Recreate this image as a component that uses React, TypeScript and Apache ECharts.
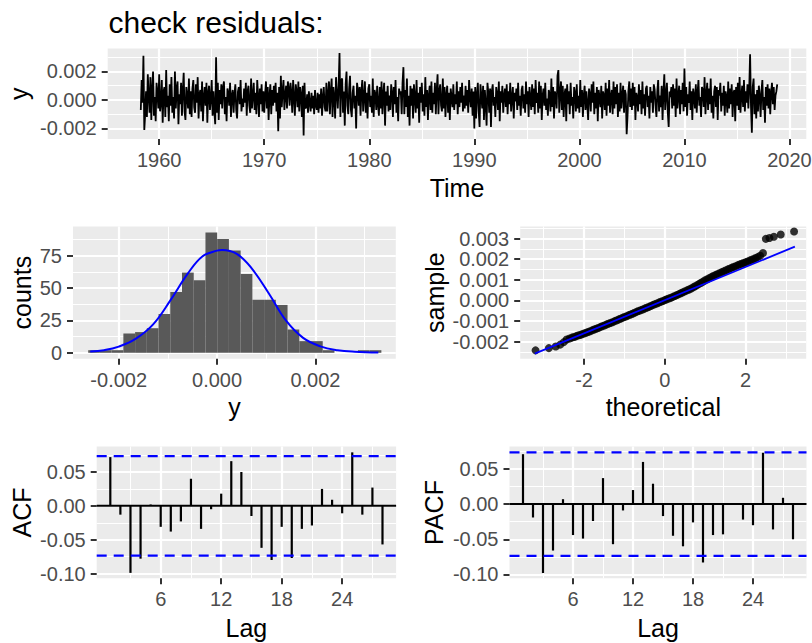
import React, { useEffect, useRef } from "react";
import * as echarts from "echarts";

const FONT = "'Liberation Sans', Arial, Helvetica, sans-serif";

// ---------- Panel 1: residual time series (values in units of 1e-4) ----------
const seriesStart = 1958.25; // Apr 1958, monthly
const residE4 = [
  // 1958 Apr-Dec
  -7, 14, -2, 31, -21, -10, 6, -12, 18,
  3, -9, 16, -14, 7, 20, -11, 2, -15, 12, 5, -6, // 1959
  18, -8, -2, 14, -16, 6, 9, -12, 21, -5, 3, -15, // 1960
  11, -4, 16, -9, 2, -13, 20, -6, 8, 13, -17, 4, // 1961
  -3, 12, -11, 7, 19, -8, -14, 9, 3, -6, 15, -10, // 1962
  6, -12, 8, 14, -5, -9, 11, -2, 16, -13, 4, 7, // 1963
  -8, 13, -15, 2, 9, -4, 12, -16, 5, 10, -7, 1, // 1964
  14, -11, 6, -8, -17, 30, -9, 12, -14, 7, -3, 11, // 1965
  -6, 9, 13, -10, 2, -15, 8, 5, -4, 12, -12, 3, // 1966
  7, -9, 4, 11, -7, -13, 6, 9, -3, 14, -8, 1, // 1967
  -5, 8, -2, 12, -11, 6, 10, -4, -9, 15, -6, 3, // 1968
  12, -7, 5, -10, 14, 2, -12, 8, -3, 11, -8, 6, // 1969
  -9, 4, 13, -6, 9, -14, 3, 11, -10, 7, -4, 10, // 1970
  -2, 12, -8, 5, -22, 9, -13, 17, -5, 6, 14, -7, // 1971
  3, 10, -6, 13, 8, -4, 12, 5, -9, 14, 2, -11, // 1972
  11, 6, -5, 13, -8, 9, 4, -12, 10, -25, 12, -6, // 1973
  -5, 4, -9, 6, -2, -8, 5, -6, 3, -10, 7, -4, // 1974
  -7, 5, -9, 4, -6, 8, -11, 2, 9, -5, -8, 12, // 1975
  -8, 4, 13, -10, 6, 15, -12, 9, 2, -13, 16, 5, // 1976
  -6, 10, 33, -12, 14, 15, -9, 6, -18, 11, 20, -4, // 1977
  -10, 8, 17, -7, -12, 5, 10, -6, 3, -20, 12, 7, // 1978
  -4, 9, -11, 6, 14, -8, 2, 13, -9, 5, -13, 8, // 1979
  11, -5, 3, -9, 15, -12, 7, 4, -7, 10, -3, -11, // 1980
  9, -6, 13, -10, 4, 12, -18, 6, -4, 10, -8, 3, // 1981
  -7, 11, 5, -12, 9, -3, 14, -9, 2, -15, 8, 4, // 1982
  6, -10, 12, 23, -10, 7, -5, 15, -12, 3, -18, 10, // 1983
  -4, 8, -13, 11, 2, -9, 14, -6, 5, -16, 9, -2, // 1984
  12, -8, 4, -11, 16, -5, 7, -14, 3, 10, -7, 13, // 1985
  -9, 5, -3, 12, -10, 7, 18, -10, 6, 11, -4, -8, // 1986
  15, -6, 9, -12, 3, 10, -9, 5, -14, 8, 2, -5, // 1987
  11, -7, 4, -3, 13, -10, 6, -5, 9, -2, 12, -8, // 1988
  3, -6, 10, -4, 7, -9, 14, 2, -5, 8, -11, 6, // 1989
  -20, 9, -13, 4, 12, -8, -19, 11, 3, -6, 10, -14, // 1990
  7, -3, -18, 12, 5, -9, 8, -19, 6, 11, -4, 2, // 1991
  -12, 9, 4, -7, 13, -15, 6, -2, 10, -9, 3, 8, // 1992
  -5, 11, -10, 6, -3, 12, -8, 2, 9, -13, 5, -1, // 1993
  8, -7, 12, -4, 3, -11, 7, 10, -6, 4, -9, 13, // 1994
  -3, 6, -12, 9, 2, -7, 11, -5, 8, -10, 14, -2, // 1995
  5, -9, 13, -6, 10, -14, 3, 8, -4, 12, -7, 1, // 1996
  -11, 7, 4, -8, 15, -5, 9, -13, 6, 3, -6, 17, // 1997
  21, -9, 5, 13, -7, 10, -12, 4, 8, -15, 11, -3, // 1998
  6, -10, 12, -4, 2, -13, 9, 5, -8, 11, -6, 3, // 1999
  -9, 14, -5, 7, -12, 3, 10, -7, 6, -3, -14, 8, // 2000
  4, -8, 11, -2, 13, -10, 5, -6, 9, -15, 7, 2, // 2001
  -5, 10, -13, 6, 3, -7, 12, -11, 8, -4, 14, -9, // 2002
  2, 7, -10, 13, -6, 9, -3, 11, -12, 5, -8, 12, // 2003
  -6, 3, 10, -9, 7, 4, -24, -11, 6, 13, -5, 8, // 2004
  -7, 12, -4, 9, -14, 5, 2, -8, 11, -3, 7, -10, // 2005
  13, -6, 4, -11, 8, 10, -5, 3, -13, 9, -2, 6, // 2006
  -9, 11, 7, -4, -12, 6, 14, -8, 3, -5, 10, -14, // 2007
  5, 18, -7, 4, 12, -9, -19, 6, 2, 9, -6, 11, // 2008
  -4, 8, -12, 15, -6, 3, 10, -10, 7, -3, 12, -8, // 2009
  22, -5, 9, -11, 4, -2, 13, -7, 6, -14, 8, 3, // 2010
  -6, 11, -9, 5, 14, -4, 2, -12, 9, 7, -5, 16, // 2011
  -10, 4, 12, -7, 8, -3, 15, -9, 3, -13, 6, 10, // 2012
  -5, 9, -14, 7, 3, 12, -8, 5, -4, 10, -11, 6, // 2013
  2, -9, 13, -6, 8, -3, 11, -12, 5, 7, -15, 9, // 2014
  -4, 12, -7, 16, -9, 3, 10, -5, 14, -8, 6, -2, // 2015
  11, -6, 8, 32, -4, -23, 9, 15, -10, 4, -13, 7, // 2016
  -8, 10, 3, -12, 6, 14, -7, 2, -16, 9, -4, 11, // 2017
  -6, 8, -10, 5, 12, -3, 9, -7, 3, 6, 11, // 2018 Jan-Nov
];
const timeMajor = [1960, 1970, 1980, 1990, 2000, 2010, 2020];
const timeMinor = [1965, 1975, 1985, 1995, 2005, 2015];
const residMajor = [-0.002, 0, 0.002];
const residMinor = [-0.001, 0.001, 0.003];

// ---------- Panel 2: histogram (x in units of 1e-4) ----------
const histBinStartE4 = -26.21;
const histBinWidthE4 = 2.385;
const histCounts = [2, 2, 2, 15, 16, 19, 30, 47, 62, 56, 93, 88, 79, 61, 41, 41, 37, 18, 9, 9, 2, 0, 0, 2, 2];
const curveXE4 = [-25.8, -23.0, -20.0, -16.5, -13.0, -9.5, -6.0, -3.0, 0.0, 1.0, 4.0, 7.0, 10.5, 14.0, 17.5, 21.0, 24.5, 28.0, 32.8];
const curveCounts = [0.9, 2.0, 4.8, 11.0, 22.0, 40.5, 61.0, 74.5, 79.0, 79.5, 76.5, 65.5, 46.0, 25.0, 11.5, 5.0, 2.0, 0.8, 0.2];
const histXMajor = [-0.002, 0, 0.002];
const histXMinor = [-0.001, 0.001, 0.003];
const histYMajor = [0, 25, 50, 75];
const histYMinor = [12.5, 37.5, 62.5, 87.5];

// ---------- Panel 3: normal QQ (sample in units of 1e-4) ----------
const qqTheoretical = [
  -3.2, -2.87, -2.7, -2.59, -2.5, -2.43, -2.36, -2.3, -2.25, -2.2, -2.15, -2.1, -2.05, -2.0,
  -1.95, -1.9, -1.85, -1.8, -1.75, -1.7, -1.65, -1.6, -1.55, -1.5, -1.45, -1.4, -1.35, -1.3,
  -1.25, -1.2, -1.15, -1.1, -1.05, -1.0, -0.95, -0.9, -0.85, -0.8, -0.75, -0.7, -0.65, -0.6,
  -0.55, -0.5, -0.45, -0.4, -0.35, -0.3, -0.25, -0.2, -0.15, -0.1, -0.05, 0.0, 0.05, 0.1,
  0.15, 0.2, 0.25, 0.3, 0.35, 0.4, 0.45, 0.5, 0.55, 0.6, 0.65, 0.7, 0.75, 0.8, 0.85, 0.9,
  0.95, 1.0, 1.05, 1.1, 1.15, 1.2, 1.25, 1.3, 1.35, 1.4, 1.45, 1.5, 1.55, 1.6, 1.65, 1.7,
  1.75, 1.8, 1.85, 1.9, 1.95, 2.0, 2.05, 2.1, 2.15, 2.2, 2.25, 2.3, 2.36, 2.43, 2.5, 2.59,
  2.7, 2.87, 3.2,
];
const qqSampleE4 = [
  -24.3, -23.2, -22.4, -21.5, -20.3, -19.0, -18.5, -18.1, -17.8, -17.5, -17.1, -16.8, -16.45, -16.1,
  -15.75, -15.4, -15.0, -14.6, -14.2, -13.8, -13.4, -13.0, -12.6, -12.2, -11.8, -11.4, -11.0, -10.6,
  -10.2, -9.8, -9.35, -8.9, -8.5, -8.1, -7.7, -7.3, -6.9, -6.5, -6.05, -5.6, -5.2, -4.8,
  -4.4, -4.0, -3.6, -3.2, -2.75, -2.3, -1.9, -1.5, -1.1, -0.7, -0.3, 0.1, 0.5, 0.9,
  1.3, 1.7, 2.15, 2.6, 3.05, 3.5, 3.95, 4.4, 4.85, 5.3, 5.8, 6.3, 6.85, 7.4, 8.0, 8.6,
  9.2, 9.8, 10.3, 10.8, 11.3, 11.8, 12.25, 12.7, 13.15, 13.6, 14.05, 14.5, 14.95, 15.4, 15.8, 16.2,
  16.6, 17.0, 17.4, 17.8, 18.15, 18.5, 18.9, 19.3, 19.7, 20.1, 20.55, 21.0, 21.7, 23.0, 29.9, 30.3,
  30.9, 32.0, 33.5,
];
const qqLineT = [-3.22, 3.22];
const qqLineSE4 = [-25.9, 26.1];
const qqXMajor = [-2, 0, 2];
const qqXMinor = [-3, -1, 1, 3];
const qqYMajor = [-0.002, -0.001, 0, 0.001, 0.002, 0.003];
const qqYMinor = [-0.0025, -0.0015, -0.0005, 0.0005, 0.0015, 0.0025, 0.0035];

// ---------- Panels 4/5: ACF and PACF ----------
const lags = [1, 2, 3, 4, 5, 6, 7, 8, 9, 10, 11, 12, 13, 14, 15, 16, 17, 18, 19, 20, 21, 22, 23, 24, 25, 26, 27, 28];
const acfValues = [0.072, -0.013, -0.099, -0.078, 0.002, -0.031, -0.038, -0.023, 0.04, -0.034, -0.005, 0.018, 0.066, 0.05,
  -0.015, -0.062, -0.08, -0.031, -0.077, -0.034, -0.029, 0.025, 0.009, -0.011, 0.079, -0.013, 0.027, -0.057];
const pacfValues = [0.071, -0.019, -0.098, -0.066, 0.007, -0.044, -0.049, -0.024, 0.037, -0.057, -0.009, 0.02, 0.06, 0.029,
  -0.017, -0.045, -0.06, -0.026, -0.083, -0.044, -0.043, 0.001, -0.022, -0.03, 0.073, -0.036, 0.009, -0.05];
const ciBound = 0.0735;
const lagMajor = [6, 12, 18, 24];
const lagMinor = [3, 9, 15, 21, 27];
const corMajor = [-0.1, -0.05, 0, 0.05];
const corMinor = [-0.075, -0.025, 0.025, 0.075];

// ---------- styling ----------
const PANEL_BG = "#EBEBEB";
const TICK_COLOR = "#333333";
const LABEL_COLOR = "#4D4D4D";
const TICK_FONT = 20;
const TITLE_FONT = 25;

const fmt3 = (v: number) => v.toFixed(3);
const fmt2 = (v: number) => v.toFixed(2);
const fmtInt = (v: number) => String(Math.round(v));

function axisPair(kind: "x" | "y", gridIndex: number, min: number, max: number, major: number[], minor: number[], fmt: (v: number) => string) {
  const position = kind === "x" ? "bottom" : "left";
  const majorAxis: any = {
    type: "value",
    gridIndex,
    min,
    max,
    position,
    z: 2,
    axisLine: { show: false, onZero: false },
    axisTick: { show: true, length: 6, lineStyle: { color: TICK_COLOR, width: 2 }, customValues: major },
    axisLabel: { show: true, customValues: major, formatter: fmt, color: LABEL_COLOR, fontSize: TICK_FONT, fontFamily: FONT, margin: 11 },
    splitLine: { show: true, lineStyle: { color: "#FFFFFF", width: 2.2 } },
    splitArea: { show: false },
  };
  const minorAxis: any = {
    type: "value",
    gridIndex,
    min,
    max,
    position,
    z: 1,
    axisLine: { show: false, onZero: false },
    axisTick: { show: false, customValues: minor },
    axisLabel: { show: false, customValues: minor },
    splitLine: { show: true, lineStyle: { color: "#FFFFFF", width: 1.1 } },
    splitArea: { show: false },
  };
  return [majorAxis, minorAxis];
}

function grid(left: number, top: number, width: number, height: number) {
  return { left, top, width, height, show: true, backgroundColor: PANEL_BG, borderWidth: 0, z: 0, containLabel: false, outerBoundsMode: "none" };
}

function text(str: string, x: number, y: number, size: number, rotate = false, align = "center") {
  return {
    type: "text",
    x,
    y,
    rotation: rotate ? Math.PI / 2 : 0,
    silent: true,
    style: { text: str, fill: "#000000", fontSize: size, fontFamily: FONT, align, verticalAlign: "middle" },
  };
}

export default function App() {
  const ref = useRef<HTMLDivElement>(null);

  useEffect(() => {
    if (!ref.current) return;
    const chart = echarts.init(ref.current, undefined, { renderer: "svg" });

    const grids = [
      grid(107.7, 48.5, 698.6, 90.5), // time series
      grid(73.0, 226.5, 322.8, 132.3), // histogram
      grid(520.2, 226.5, 286.0, 132.3), // qq
      grid(96.7, 446.6, 299.4, 131.7), // acf
      grid(509.5, 446.6, 297.0, 131.7), // pacf
    ];

    const xAxes = [
      ...axisPair("x", 0, 1955.1, 2021.6, timeMajor, timeMinor, fmtInt),
      ...axisPair("x", 1, -0.00293, 0.003635, histXMajor, histXMinor, fmt3),
      ...axisPair("x", 2, -3.58, 3.5, qqXMajor, qqXMinor, fmtInt),
      ...axisPair("x", 3, -0.35, 29.35, lagMajor, lagMinor, fmtInt),
      ...axisPair("x", 4, -0.35, 29.35, lagMajor, lagMinor, fmtInt),
    ];
    const yAxes = [
      ...axisPair("y", 0, -0.00274, 0.00361, residMajor, residMinor, fmt3),
      ...axisPair("y", 1, -4.65, 97.65, histYMajor, histYMinor, fmtInt),
      ...axisPair("y", 2, -0.00284, 0.00359, qqYMajor, qqYMinor, fmt3),
      ...axisPair("y", 3, -0.107, 0.0875, corMajor, corMinor, fmt2),
      ...axisPair("y", 4, -0.1055, 0.0818, corMajor, corMinor, fmt2),
    ];

    const residData = residE4.map((v, i) => [seriesStart + i / 12, v / 1e4]);
    const histData = histCounts.map((c, i) => [
      (histBinStartE4 + i * histBinWidthE4) / 1e4,
      (histBinStartE4 + (i + 1) * histBinWidthE4) / 1e4,
      c,
    ]);
    const curveData = curveXE4.map((x, i) => [x / 1e4, curveCounts[i]]);
    const qqData = qqTheoretical.map((t, i) => [t, qqSampleE4[i] / 1e4]);
    const qqLineData = qqLineT.map((t, i) => [t, qqLineSE4[i] / 1e4]);

    const lagRange = [-0.35, 29.35];

    const stemSeries = (g: number, values: number[]) => [
      {
        type: "line",
        xAxisIndex: 2 * g,
        yAxisIndex: 2 * g,
        data: lagRange.map((x) => [x, 0]),
        showSymbol: false,
        symbol: "none",
        lineStyle: { color: "#000000", width: 2 },
        z: 3,
      },
      {
        type: "custom",
        xAxisIndex: 2 * g,
        yAxisIndex: 2 * g,
        data: lags.map((l, i) => [l, values[i]]),
        encode: { x: 0, y: 1 },
        renderItem: (_p: any, api: any) => {
          const a = api.coord([api.value(0), 0]);
          const b = api.coord([api.value(0), api.value(1)]);
          return {
            type: "line",
            shape: { x1: a[0], y1: a[1], x2: b[0], y2: b[1] },
            style: { stroke: "#000000", lineWidth: 2.2 },
          };
        },
        z: 4,
      },
      ...[ciBound, -ciBound].map((c) => ({
        type: "line",
        xAxisIndex: 2 * g,
        yAxisIndex: 2 * g,
        data: lagRange.map((x) => [x, c]),
        showSymbol: false,
        symbol: "none",
        lineStyle: { color: "#0000FF", width: 2.2, type: [10, 7] },
        z: 5,
      })),
    ];

    const option: any = {
      animation: false,
      backgroundColor: "#FFFFFF",
      textStyle: { fontFamily: FONT },
      grid: grids,
      xAxis: xAxes,
      yAxis: yAxes,
      series: [
        {
          type: "line",
          xAxisIndex: 0,
          yAxisIndex: 0,
          data: residData,
          showSymbol: false,
          symbol: "none",
          lineStyle: { color: "#000000", width: 1.8 },
          z: 3,
        },
        {
          type: "custom",
          xAxisIndex: 2,
          yAxisIndex: 2,
          data: histData,
          encode: { x: [0, 1], y: 2 },
          renderItem: (_p: any, api: any) => {
            const p0 = api.coord([api.value(0), api.value(2)]);
            const p1 = api.coord([api.value(1), 0]);
            return {
              type: "rect",
              shape: { x: p0[0], y: p0[1], width: p1[0] - p0[0], height: p1[1] - p0[1] },
              style: { fill: "#595959" },
            };
          },
          z: 3,
        },
        {
          type: "line",
          xAxisIndex: 2,
          yAxisIndex: 2,
          data: curveData,
          smooth: 0.4,
          showSymbol: false,
          symbol: "none",
          lineStyle: { color: "#0000FF", width: 2 },
          z: 4,
        },
        {
          type: "scatter",
          xAxisIndex: 4,
          yAxisIndex: 4,
          data: qqData,
          symbol: "circle",
          symbolSize: 8,
          itemStyle: { color: "#000000" },
          z: 3,
        },
        {
          type: "line",
          xAxisIndex: 4,
          yAxisIndex: 4,
          data: qqLineData,
          showSymbol: false,
          symbol: "none",
          lineStyle: { color: "#0000FF", width: 1.8 },
          z: 4,
        },
        ...stemSeries(3, acfValues),
        ...stemSeries(4, pacfValues),
      ],
      graphic: [
        text("check residuals:", 108.5, 22, 30, false, "left"),
        text("y", 19, 93.8, TITLE_FONT, true),
        text("Time", 457, 187.5, TITLE_FONT),
        text("counts", 22, 292.7, TITLE_FONT, true),
        text("y", 234.5, 407, TITLE_FONT),
        text("sample", 435, 292.7, TITLE_FONT, true),
        text("theoretical", 663.3, 407, TITLE_FONT),
        text("ACF", 21.7, 512.5, TITLE_FONT, true),
        text("Lag", 246.4, 628, TITLE_FONT),
        text("PACF", 434, 512.5, TITLE_FONT, true),
        text("Lag", 658, 628, TITLE_FONT),
      ],
    };

    chart.setOption(option);
    return () => chart.dispose();
  }, []);

  return (
    <div
      ref={ref}
      style={{ position: "fixed", left: 0, top: 0, width: 812, height: 643, background: "#FFFFFF" }}
    />
  );
}
